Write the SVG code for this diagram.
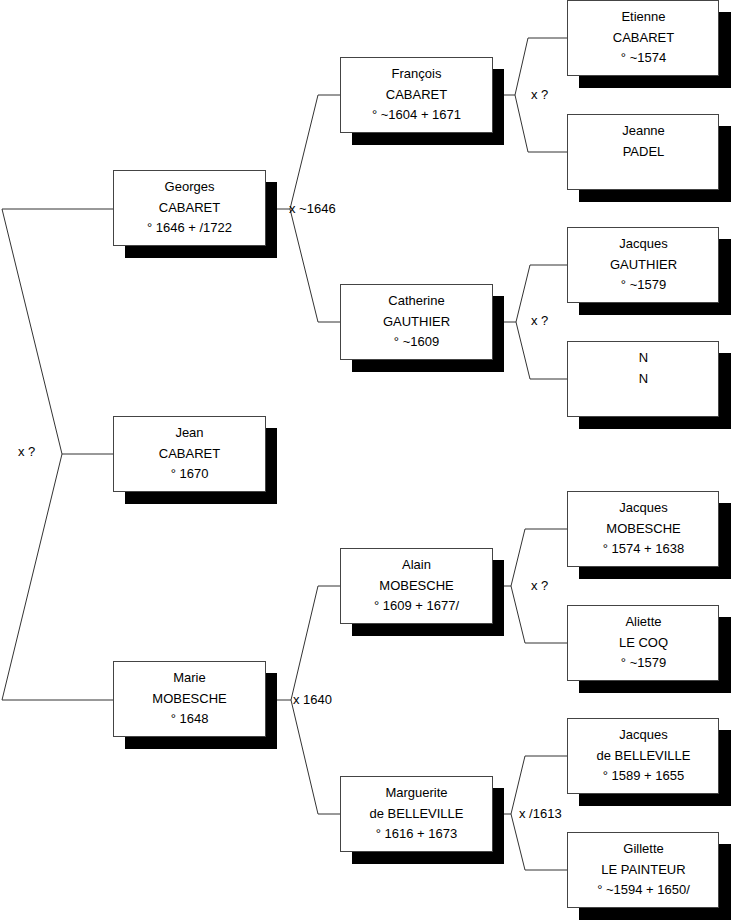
<svg xmlns="http://www.w3.org/2000/svg" width="731" height="920" viewBox="0 0 731 920">
<style>
.c{fill:none;stroke:#333;stroke-width:1}
.b{fill:#fff;stroke:#444;stroke-width:1}
.s{fill:#000}
text{font-family:"Liberation Sans",Arial,sans-serif;font-size:13px;fill:#000}
.t{text-anchor:middle}
</style>
<rect width="731" height="920" fill="#fff"/>
<g id="connectors">
<polyline class="c" points="113.5,209 2,209 62,454 2,700 113.5,700"/>
<line class="c" x1="62" y1="454" x2="113.5" y2="454"/>
<line class="c" x1="265.5" y1="209" x2="290" y2="209"/>
<polyline class="c" points="340.5,95 318,95 290,209 318,322 340.5,322"/>
<line class="c" x1="265.5" y1="700" x2="291" y2="700"/>
<polyline class="c" points="340.5,586 318,586 291,700 318,814 340.5,814"/>
<line class="c" x1="492" y1="95" x2="515" y2="95"/>
<polyline class="c" points="567.5,38 528,38 515,95 528,152 567.5,152"/>
<line class="c" x1="492" y1="322" x2="516" y2="322"/>
<polyline class="c" points="567.5,265 530,265 516,322 530,379 567.5,379"/>
<line class="c" x1="492" y1="586" x2="511" y2="586"/>
<polyline class="c" points="567.5,529 525,529 511,586 525,643 567.5,643"/>
<line class="c" x1="492" y1="814" x2="511" y2="814"/>
<polyline class="c" points="567.5,756 525,756 511,814 525,870 567.5,870"/>
<text x="18" y="456">x ?</text>
<text x="289" y="213">x ~1646</text>
<text x="293" y="704">x 1640</text>
<text x="531" y="99">x ?</text>
<text x="531" y="325">x ?</text>
<text x="531" y="590">x ?</text>
<text x="519" y="818">x /1613</text>
</g>
<g id="georges">
<rect class="s" x="125" y="182" width="152" height="76"/>
<rect class="b" x="113.5" y="170.5" width="152" height="75"/>
<text class="t" x="189.5" y="191">Georges</text>
<text class="t" x="189.5" y="211.5">CABARET</text>
<text class="t" x="189.5" y="231.5">° 1646 + /1722</text>
</g>
<g id="jean">
<rect class="s" x="125" y="428" width="152" height="76"/>
<rect class="b" x="113.5" y="416.5" width="152" height="75"/>
<text class="t" x="189.5" y="437">Jean</text>
<text class="t" x="189.5" y="457.5">CABARET</text>
<text class="t" x="189.5" y="477.5">° 1670</text>
</g>
<g id="marie">
<rect class="s" x="125" y="673" width="152" height="76"/>
<rect class="b" x="113.5" y="661.5" width="152" height="75"/>
<text class="t" x="189.5" y="682">Marie</text>
<text class="t" x="189.5" y="702.5">MOBESCHE</text>
<text class="t" x="189.5" y="722.5">° 1648</text>
</g>
<g id="francois">
<rect class="s" x="352" y="69" width="152" height="76"/>
<rect class="b" x="340.5" y="57.5" width="152" height="75"/>
<text class="t" x="416.5" y="78">François</text>
<text class="t" x="416.5" y="98.5">CABARET</text>
<text class="t" x="416.5" y="118.5">° ~1604 + 1671</text>
</g>
<g id="catherine">
<rect class="s" x="352" y="296" width="152" height="76"/>
<rect class="b" x="340.5" y="284.5" width="152" height="75"/>
<text class="t" x="416.5" y="305">Catherine</text>
<text class="t" x="416.5" y="325.5">GAUTHIER</text>
<text class="t" x="416.5" y="345.5">° ~1609</text>
</g>
<g id="alain">
<rect class="s" x="352" y="560" width="152" height="76"/>
<rect class="b" x="340.5" y="548.5" width="152" height="75"/>
<text class="t" x="416.5" y="569">Alain</text>
<text class="t" x="416.5" y="589.5">MOBESCHE</text>
<text class="t" x="416.5" y="609.5">° 1609 + 1677/</text>
</g>
<g id="marguerite">
<rect class="s" x="352" y="788" width="152" height="76"/>
<rect class="b" x="340.5" y="776.5" width="152" height="75"/>
<text class="t" x="416.5" y="797">Marguerite</text>
<text class="t" x="416.5" y="817.5">de BELLEVILLE</text>
<text class="t" x="416.5" y="837.5">° 1616 + 1673</text>
</g>
<g id="etienne">
<rect class="s" x="579" y="12" width="152" height="76"/>
<rect class="b" x="567.5" y="0.5" width="151" height="75"/>
<text class="t" x="643.5" y="21">Etienne</text>
<text class="t" x="643.5" y="41.5">CABARET</text>
<text class="t" x="643.5" y="61.5">° ~1574</text>
</g>
<g id="jeanne">
<rect class="s" x="579" y="126" width="152" height="76"/>
<rect class="b" x="567.5" y="114.5" width="151" height="75"/>
<text class="t" x="643.5" y="135">Jeanne</text>
<text class="t" x="643.5" y="155.5">PADEL</text>
</g>
<g id="jacques-gauthier">
<rect class="s" x="579" y="239" width="152" height="76"/>
<rect class="b" x="567.5" y="227.5" width="151" height="75"/>
<text class="t" x="643.5" y="248">Jacques</text>
<text class="t" x="643.5" y="268.5">GAUTHIER</text>
<text class="t" x="643.5" y="288.5">° ~1579</text>
</g>
<g id="n">
<rect class="s" x="579" y="353" width="152" height="76"/>
<rect class="b" x="567.5" y="341.5" width="151" height="75"/>
<text class="t" x="643.5" y="362">N</text>
<text class="t" x="643.5" y="382.5">N</text>
</g>
<g id="jacques-mobesche">
<rect class="s" x="579" y="503" width="152" height="76"/>
<rect class="b" x="567.5" y="491.5" width="151" height="75"/>
<text class="t" x="643.5" y="512">Jacques</text>
<text class="t" x="643.5" y="532.5">MOBESCHE</text>
<text class="t" x="643.5" y="552.5">° 1574 + 1638</text>
</g>
<g id="aliette">
<rect class="s" x="579" y="617" width="152" height="76"/>
<rect class="b" x="567.5" y="605.5" width="151" height="75"/>
<text class="t" x="643.5" y="626">Aliette</text>
<text class="t" x="643.5" y="646.5">LE COQ</text>
<text class="t" x="643.5" y="666.5">° ~1579</text>
</g>
<g id="jacques-belleville">
<rect class="s" x="579" y="730" width="152" height="76"/>
<rect class="b" x="567.5" y="718.5" width="151" height="75"/>
<text class="t" x="643.5" y="739">Jacques</text>
<text class="t" x="643.5" y="759.5">de BELLEVILLE</text>
<text class="t" x="643.5" y="779.5">° 1589 + 1655</text>
</g>
<g id="gillette">
<rect class="s" x="579" y="844" width="152" height="76"/>
<rect class="b" x="567.5" y="832.5" width="151" height="75"/>
<text class="t" x="643.5" y="853">Gillette</text>
<text class="t" x="643.5" y="873.5">LE PAINTEUR</text>
<text class="t" x="643.5" y="893.5">° ~1594 + 1650/</text>
</g>
</svg>
